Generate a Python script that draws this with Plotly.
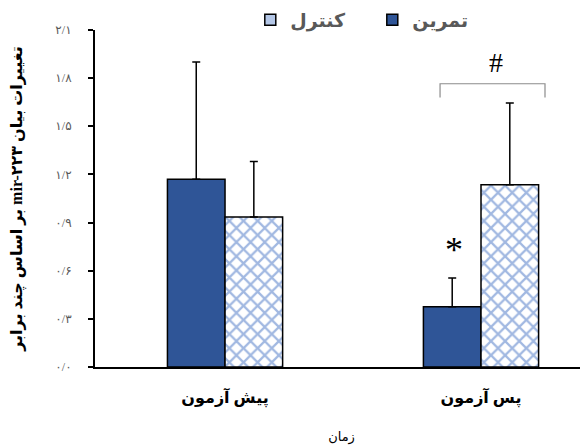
import plotly.graph_objects as go

categories = ["پیش آزمون", "پس آزمون"]
series_names = ["تمرین", "کنترل"]
training_vals = [1.17, 0.375]
training_err = [0.73, 0.18]
control_vals = [0.935, 1.135]
control_err = [0.345, 0.51]
tick_vals = [0, 0.3, 0.6, 0.9, 1.2, 1.5, 1.8, 2.1]
tick_text = ["۰/۰", "۰/۳", "۰/۶", "۰/۹", "۱/۲", "۱/۵", "۱/۸", "۲/۱"]
y_title = "تغییرات بیان mir-۲۲۳ بر اساس چند برابر"
x_title = "زمان"

DARK = "#2F5597"
LIGHT = "#B4C7E7"
HATCH = "#4472C4"
FONT = "Times New Roman, DejaVu Sans, serif"

fig = go.Figure()
fig.add_trace(go.Bar(
    x=categories, y=training_vals, name=series_names[0], showlegend=False,
    marker=dict(color=DARK, line=dict(color="black", width=1.5)),
    error_y=dict(type="data", array=training_err, symmetric=False,
                 arrayminus=[0, 0], color="black", thickness=1.5, width=4),
))
fig.add_trace(go.Bar(
    x=categories, y=control_vals, name=series_names[1], showlegend=False,
    marker=dict(color="white", line=dict(color="black", width=1.5),
                pattern=dict(shape="x", fgcolor=HATCH, bgcolor="white",
                             size=10, solidity=0.4)),
    error_y=dict(type="data", array=control_err, symmetric=False,
                 arrayminus=[0, 0], color="black", thickness=1.5, width=4),
))
# legend entries
fig.add_trace(go.Scatter(x=[None], y=[None], mode="markers", name="<b>" + series_names[1] + "</b>",
                         marker=dict(symbol="square", size=11, color=LIGHT,
                                     line=dict(color="black", width=1.5))))
fig.add_trace(go.Scatter(x=[None], y=[None], mode="markers", name="<b>" + series_names[0] + "</b>",
                         marker=dict(symbol="square", size=11, color=DARK,
                                     line=dict(color="black", width=1.5))))

# significance bracket
br_col = "#8C8C8C"
fig.add_shape(type="path", xref="x", yref="y",
              path="M 0.84,1.68 L 0.84,1.765 L 1.25,1.765 L 1.25,1.68",
              line=dict(color=br_col, width=1.2))
fig.add_annotation(x=1.06, y=1.90, xref="x", yref="y", text="#", showarrow=False,
                   font=dict(size=28, color="black", family=FONT))
fig.add_annotation(x=0.895, y=0.73, xref="x", yref="y", text="*", showarrow=False,
                   font=dict(size=36, color="black", family=FONT))

# the page body has an 8px margin, so the figure is sized to fit the window
fig.update_layout(
    width=580, height=437,
    margin=dict(l=87, r=0, t=22, b=78, autoexpand=False),
    plot_bgcolor="white", paper_bgcolor="white",
    barmode="group", bargap=0.55, bargroupgap=0,
    font=dict(family=FONT, color="black"),
    showlegend=True,
    legend=dict(orientation="h", x=0.315, xanchor="left", y=1.03, yanchor="middle",
                font=dict(size=19, color="#595959", family=FONT),
                bgcolor="rgba(0,0,0,0)", itemwidth=30, entrywidth=77),
    xaxis=dict(range=[-0.508, 1.418], showline=True, linecolor="black", linewidth=2,
               ticks="", showgrid=False, zeroline=False,
               tickfont=dict(size=16, color="black", family=FONT),
               ticklabelstandoff=15,
               title=dict(text=x_title, font=dict(size=13, color="black", family=FONT),
                          standoff=25)),
    yaxis=dict(range=[0, 2.1], tickvals=tick_vals, ticktext=tick_text,
               showline=True, linecolor="black", linewidth=2,
               ticks="outside", ticklen=5, tickcolor="black", tickwidth=1.5,
               showgrid=False, zeroline=False,
               tickfont=dict(size=12, color="#595959", family=FONT),
               ticklabelstandoff=14,
               title=dict(text="<b>\u202B" + y_title + "\u202C</b>",
                          font=dict(size=16, color="black", family=FONT),
                          standoff=29)),
)
fig.update_xaxes(tickprefix="<b>", ticksuffix="</b>")

fig.write_html("out.html")
